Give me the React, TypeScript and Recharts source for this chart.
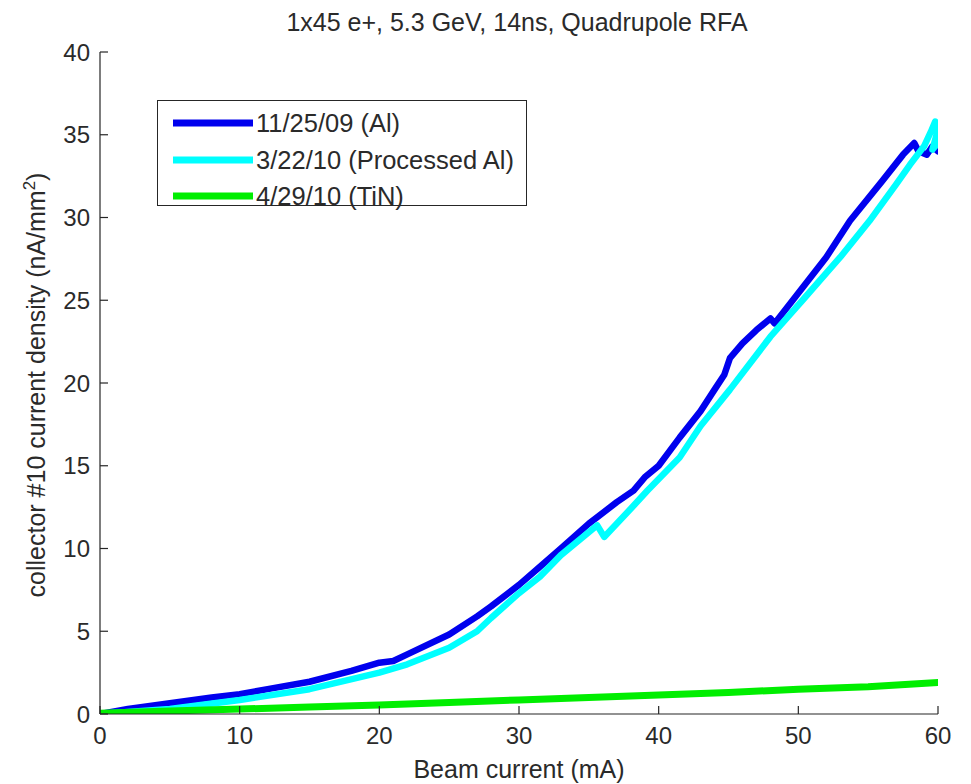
import React from 'react';
import { LineChart, Line, XAxis, YAxis } from 'recharts';

const FONT = '"Liberation Sans", Arial, Helvetica, sans-serif';

const titleText = '1x45 e+, 5.3 GeV, 14ns, Quadrupole RFA';
const xLabelText = 'Beam current (mA)';
const yLabelText = 'collector #10 current density (nA/mm';
const xTicks = [0, 10, 20, 30, 40, 50, 60];
const yTicks = [0, 5, 10, 15, 20, 25, 30, 35, 40];

const seriesNames = ['11/25/09 (Al)', '3/22/10 (Processed Al)', '4/29/10 (TiN)'];
const seriesColors = ['#0000ee', '#00ffff', '#00ee00'];

// 11/25/09 (Al)
const alX = [0, 2, 5, 8, 10, 12, 15, 18, 20, 21, 22, 25, 27, 28, 30, 31.5, 33, 35, 37, 38.2, 39, 40, 41.5, 43, 44, 44.7, 45.1, 46, 47, 48, 48.3, 49.6, 52, 53.7, 56, 57.5, 58.3, 58.6, 59.2, 59.6, 60];
const alY = [0, 0.3, 0.65, 1.0, 1.2, 1.5, 1.95, 2.6, 3.1, 3.2, 3.6, 4.8, 5.9, 6.5, 7.8, 8.9, 10.0, 11.5, 12.8, 13.5, 14.3, 15.0, 16.7, 18.3, 19.6, 20.5, 21.5, 22.4, 23.2, 23.9, 23.6, 25.0, 27.6, 29.8, 32.2, 33.8, 34.5, 34.0, 33.8, 34.3, 34.0];

// 3/22/10 (Processed Al)
const pAlX = [0, 5, 10, 15, 20, 22, 25, 27, 28, 30, 31.5, 33, 35.6, 36.1, 38, 39.2, 41.5, 43, 45.1, 48, 50.3, 53, 55.1, 57, 58, 59, 59.5, 59.8, 59.9, 59.6, 60];
const pAlY = [0, 0.3, 0.85, 1.5, 2.5, 3.0, 4.0, 5.0, 5.8, 7.3, 8.3, 9.6, 11.4, 10.7, 12.4, 13.5, 15.5, 17.4, 19.6, 22.8, 25.0, 27.6, 29.8, 32.0, 33.2, 34.3, 35.2, 35.8, 35.0, 34.1, 34.5];

// 4/29/10 (TiN)
const tinX = [0, 5, 10, 15, 20, 25, 30, 35, 40, 45, 50, 55, 60];
const tinY = [0.05, 0.18, 0.3, 0.42, 0.55, 0.7, 0.85, 1.0, 1.15, 1.3, 1.5, 1.65, 1.9];

const toPoints = (xs: number[], ys: number[]) => xs.map((x, i) => ({ x, y: ys[i] }));

const alData = toPoints(alX, alY);
const pAlData = toPoints(pAlX, pAlY);
const tinData = toPoints(tinX, tinY);
const allData = [alData, pAlData, tinData];

const TEXT = '#2a2a2a';
const AXIS = '#262626';

export default function App() {
  return (
    <div style={{ position: 'absolute', left: 0, top: 0, width: 971, height: 784, background: '#fff', fontFamily: FONT }}>
      <LineChart width={971} height={784} margin={{ top: 52, right: 33, bottom: 40, left: 40 }}>
        <XAxis
          type="number"
          dataKey="x"
          domain={[0, 60]}
          ticks={xTicks}
          height={30}
          tickSize={-8}
          tickMargin={21}
          axisLine={{ stroke: AXIS, strokeWidth: 1.2 }}
          tickLine={{ stroke: AXIS, strokeWidth: 1.2 }}
          tick={{ fill: TEXT, fontSize: 24, fontFamily: FONT }}
          allowDataOverflow
        />
        <YAxis
          type="number"
          dataKey="y"
          domain={[0, 40]}
          ticks={yTicks}
          width={60}
          tickSize={-8}
          tickMargin={18}
          axisLine={{ stroke: AXIS, strokeWidth: 1.2 }}
          tickLine={{ stroke: AXIS, strokeWidth: 1.2 }}
          tick={{ fill: TEXT, fontSize: 24, fontFamily: FONT }}
          allowDataOverflow
        />
        {allData.map((d, i) => (
          <Line
            key={seriesNames[i]}
            data={d}
            dataKey="y"
            name={seriesNames[i]}
            type="linear"
            stroke={seriesColors[i]}
            strokeWidth={i === 2 ? 7 : 6.5}
            strokeLinejoin="round"
            strokeLinecap="round"
            dot={false}
            activeDot={false}
            isAnimationActive={false}
          />
        ))}
      </LineChart>

      <svg width={971} height={784} style={{ position: 'absolute', left: 0, top: 0, pointerEvents: 'none' }}>
        <text x={517} y={31} textAnchor="middle" fontSize={25} fill={TEXT} fontFamily={FONT}>{titleText}</text>
        <text x={519} y={778} textAnchor="middle" fontSize={25} fill={TEXT} fontFamily={FONT}>{xLabelText}</text>
        <text x={45} y={385} transform="rotate(-90 45 385)" textAnchor="middle" fontSize={25} fill={TEXT} fontFamily={FONT}>
          {yLabelText}
          <tspan fontSize={17} dy={-10}>2</tspan>
          <tspan dy={10}>)</tspan>
        </text>
      </svg>

      <div
        style={{
          position: 'absolute',
          left: 157,
          top: 100,
          width: 370,
          height: 106,
          border: `1.2px solid ${AXIS}`,
          background: '#fff',
          boxSizing: 'border-box',
        }}
      >
        {seriesNames.map((name, i) => (
          <div key={name} style={{ position: 'absolute', left: 15, top: 6 + i * 36.5, height: 32, display: 'flex', alignItems: 'center' }}>
            <svg width={80} height={10} style={{ display: 'block' }}>
              <line x1={0} y1={5} x2={80} y2={5} stroke={seriesColors[i]} strokeWidth={7} />
            </svg>
            <span style={{ marginLeft: 3, fontSize: 25.5, color: TEXT, whiteSpace: 'nowrap', lineHeight: '32px' }}>{name}</span>
          </div>
        ))}
      </div>
    </div>
  );
}
